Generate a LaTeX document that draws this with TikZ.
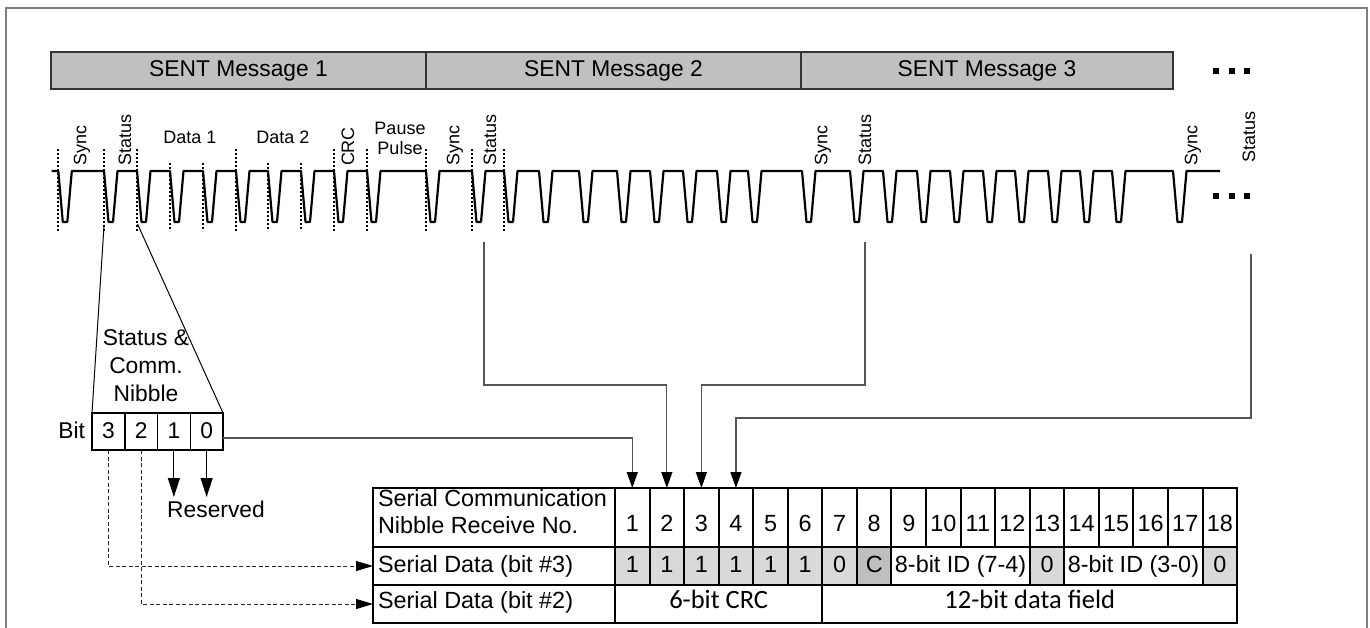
\documentclass[tikz,border=0pt]{standalone}
\usepackage{fontspec}
\setmainfont{Liberation Sans}
\newfontfamily\calibfont{Carlito}
\usetikzlibrary{arrows.meta}
\definecolor{barfill}{HTML}{C0C0C0}
\definecolor{cellgray}{HTML}{D9D9D9}
\definecolor{cellgrayd}{HTML}{BFBFBF}
\definecolor{framecol}{HTML}{7F7F7F}
\definecolor{conncol}{HTML}{555555}
\begin{document}
\begin{tikzpicture}[x=1pt,y=-1pt,
 every node/.style={inner sep=0pt,outer sep=0pt},
 fbig/.style={font=\fontsize{22.8}{26}\selectfont},
 ftbl/.style={font=\fontsize{23.4}{27}\selectfont},
 fsmall/.style={font=\fontsize{18}{21}\selectfont},
 fcal/.style={font=\calibfont\fontsize{26.5}{30}\selectfont},
 wave/.style={line width=2.2pt,line join=round},
 dotline/.style={line width=2pt,dash pattern=on 2pt off 2pt},
 conn/.style={draw=conncol,line width=1.3pt},
 dashconn/.style={draw=black!85,line width=1pt,dash pattern=on 4pt off 2.5pt},
 arrowtip/.style={-{Triangle[length=16pt,width=11pt,color=black]}},
 msgbox/.style={draw=black!80,fill=barfill,line width=1.5pt,minimum height=37,fbig},
 sqdot/.style={fill=black,minimum size=5.5},
 cellbox/.style={draw=black,line width=2pt},
 bitcell/.style={draw=black,line width=1.5pt,minimum width=32.75,minimum height=37},
 rot/.style={fsmall,rotate=90,anchor=west}
]
\useasboundingbox (0,0) rectangle (1370,628);
\fill[white] (0,0) rectangle (1370,628);
% outer frame
\draw[draw=framecol,line width=2pt] (6,628) -- (6,8.5) -- (1367,8.5) -- (1367,628);

% message bar
\node[msgbox,minimum width=375] (m1) at (238.5,70.5) {SENT Message 1};
\node[msgbox,minimum width=375] (m2) at (613.5,70.5) {SENT Message 2};
\node[msgbox,minimum width=372] (m3) at (987,70.5) {SENT Message 3};
\foreach \x [count=\k] in {1216,1232,1247} {
  \node[sqdot] (dt\k) at (\x,71) {};
  \node[sqdot] (db\k) at (\x,196) {};
}

% waveform
\draw[wave] (51.7,171) foreach \x in {58.3,104,137,170,203,236,268,301,334,367,426,472,504,539,579,617,650,683,717,748,802,850,883,917,950,983,1015,1048,1080,1112,1173} { -- (\x,171) -- ++(4.5,51) -- ++(4.5,0) -- ++(4.5,-51) } -- (1220,171);
\foreach \x in {58.3,104,137,236,334,367,426,472,504} \draw[dotline] (\x,149) -- (\x,231);
\foreach \x in {170,203,268,301} \draw[dotline] (\x,163) -- (\x,231);

% waveform labels
\node[rot] (ls1) at (82,166) {Sync};
\node[rot] (lt1) at (125,166) {Status};
\node[fsmall,anchor=base] (ld1) at (190,144) {Data 1};
\node[fsmall,anchor=base] (ld2) at (283,144) {Data 2};
\node[rot] (lc1) at (348,166) {CRC};
\node[fsmall,anchor=base] (lpa) at (400,135) {Pause};
\node[fsmall,anchor=base] (lpu) at (400,155) {Pulse};
\node[rot] (ls2) at (455,166) {Sync};
\node[rot] (lt2) at (490,166) {Status};
\node[rot] (ls3) at (823,166) {Sync};
\node[rot] (lt3) at (865,166) {Status};
\node[rot] (ls4) at (1193,166) {Sync};
\node[rot] (lt4) at (1249,163) {Status};

% status nibble box
\foreach \i/\t in {0/3,1/2,2/1,3/0} {
  \node[bitcell] (b\t) at ({92+32.75*(\i+0.5)},431.5) {};
  \node[fbig,anchor=base] (bt\t) at ({92+32.75*(\i+0.5)},438.3) {\t};
}
\node[fbig,anchor=base west] (bitlab) at (58.3,438.3) {Bit};
\node[fbig,anchor=base] (sn1) at (146,345) {Status \&};
\node[fbig,anchor=base] (sn2) at (146,373) {Comm.};
\node[fbig,anchor=base] (sn3) at (146,401.5) {Nibble};
\coordinate (zl) at (104,226);
\coordinate (zr) at (137.5,224);
\draw[line width=1pt] (zl) -- (b3.north west);
\draw[line width=1pt] (zr) -- (b0.north east);
\coordinate (r1) at (b1.south |- 0,497);
\coordinate (r0) at (b0.south |- 0,497);
\draw[line width=1.2pt,-{Triangle[length=19pt,width=12pt]}] (b1.south) -- (r1);
\draw[line width=1.2pt,-{Triangle[length=19pt,width=12pt]}] (b0.south) -- (r0);
\node[fbig,anchor=base] (resv) at (216,517.7) {Reserved};

% table
\node[cellbox,minimum width=242,minimum height=59] (lab1) at (494,517.5) {};
\node[cellbox,minimum width=242,minimum height=38] (lab2) at (494,566) {};
\node[cellbox,minimum width=242,minimum height=38] (lab3) at (494,604) {};
\node[ftbl,anchor=base west] (t1a) at (378,506) {Serial Communication};
\node[ftbl,anchor=base west] (t1b) at (378,533) {Nibble Receive No.};
\node[ftbl,anchor=base west] (t2) at (378,572) {Serial Data (bit \#3)};
\node[ftbl,anchor=base west] (t3) at (378,608) {Serial Data (bit \#2)};
\foreach \i in {1,...,18} {
  \node[cellbox,minimum width=34.56,minimum height=59] (n\i) at ({615+34.56*(\i-0.5)},517.5) {};
  \node[ftbl,anchor=base] (nt\i) at ({615+34.56*(\i-0.5)},531) {\i};
}
\foreach \a/\b/\f/\t in {1/1/cellgray/1,2/2/cellgray/1,3/3/cellgray/1,4/4/cellgray/1,5/5/cellgray/1,6/6/cellgray/1,7/7/cellgray/0,8/8/cellgrayd/C,9/12/white/8-bit ID (7-4),13/13/cellgray/0,14/17/white/8-bit ID (3-0),18/18/cellgray/0} {
  \node[cellbox,fill=\f,minimum width={34.56*(\b-\a+1)},minimum height=38] (d\a) at ({615+34.56*(\a-1+\b)/2},566) {};
  \node[ftbl,anchor=base] (dt\a) at ({615+34.56*(\a-1+\b)/2},572) {\t};
}
\node[cellbox,minimum width=207.36,minimum height=38] (crc) at (718.68,604) {};
\node[fcal,anchor=base] (crct) at (718.68,608.5) {6-bit CRC};
\node[cellbox,minimum width=414.72,minimum height=38] (dfield) at (1029.72,604) {};
\node[fcal,anchor=base] (dfieldt) at (1029.72,608.5) {12-bit data field};

% connectors to table
\coordinate (s2) at (484,242);
\coordinate (s3) at (865,242);
\coordinate (s4) at (1251,254);
\coordinate (s0) at (223,438);
\draw[conn,arrowtip] (s0) -| (n1.north);
\draw[conn,arrowtip] (s2) |- (600,385) -| (n2.north);
\draw[conn,arrowtip] (s3) |- (800,385) -| (n3.north);
\draw[conn,arrowtip] (s4) |- (1000,418) -| (n4.north);
\draw[dashconn,-{Triangle[length=17pt,width=10pt,color=black]}] (b3.south) |- (lab2.west);
\draw[dashconn,-{Triangle[length=17pt,width=10pt,color=black]}] (b2.south) |- (lab3.west);
\end{tikzpicture}
\end{document}
